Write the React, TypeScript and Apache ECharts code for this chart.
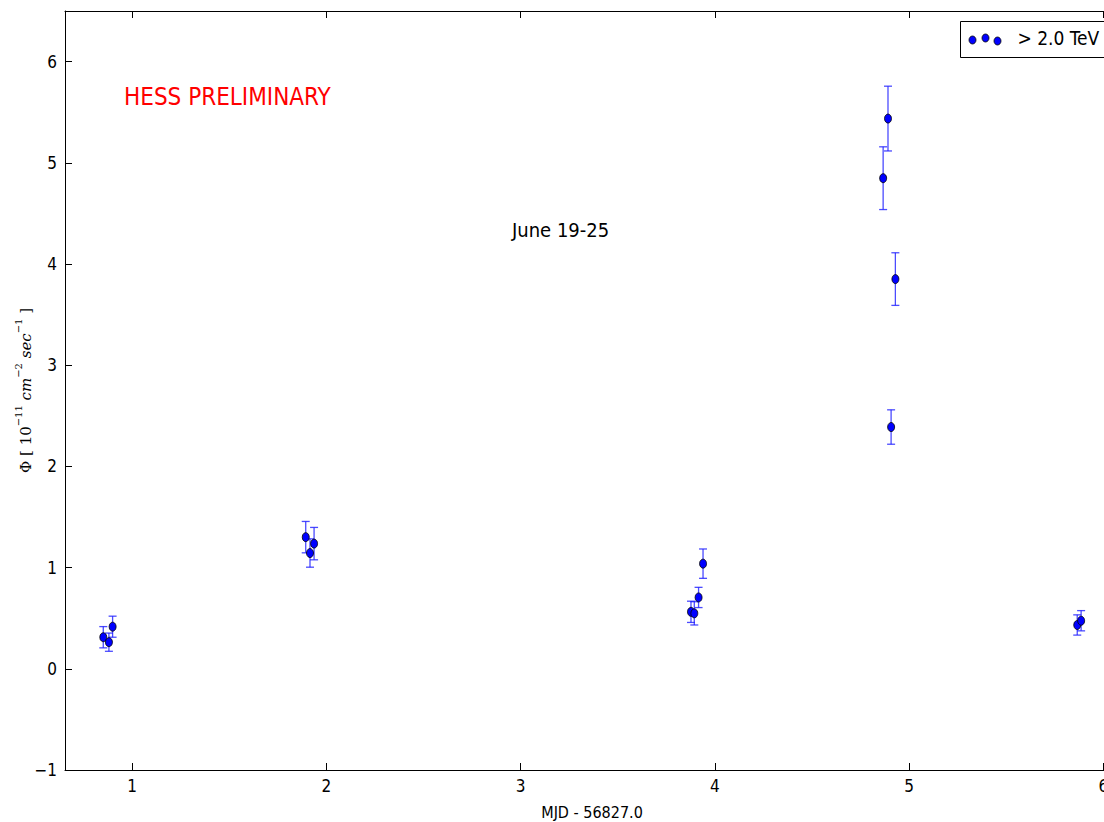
import React, { useEffect, useRef } from "react";
import * as echarts from "echarts";

const mjd = [0.852, 0.881, 0.900, 1.894, 1.916, 1.937, 3.877, 3.894, 3.916, 3.939, 4.866, 4.891, 4.907, 4.929, 5.865, 5.885];
const flux = [0.312, 0.263, 0.416, 1.301, 1.144, 1.237, 0.563, 0.548, 0.705, 1.039, 4.848, 5.437, 2.389, 3.851, 0.433, 0.475];
const fluxErr = [0.105, 0.09, 0.104, 0.155, 0.14, 0.16, 0.105, 0.115, 0.10, 0.145, 0.31, 0.32, 0.17, 0.26, 0.10, 0.10];
const xTicks = [1, 2, 3, 4, 5, 6];
const yTicks = [-1, 0, 1, 2, 3, 4, 5, 6];
const legendLabel = "> 2.0 TeV";
const xName = "MJD - 56827.0";
const title = "HESS PRELIMINARY";
const period = "June 19-25";

const FONT = "'DejaVu Sans Condensed', 'Liberation Sans Narrow', 'DejaVu Sans', sans-serif";

export default function App() {
  const ref = useRef<HTMLDivElement>(null);
  useEffect(() => {
    const chart = echarts.init(ref.current!, null, { renderer: "svg" });
    const points = mjd.map((x, i) => [x, flux[i]]);
    const errData = mjd.map((x, i) => [x, flux[i] - fluxErr[i], flux[i] + fluxErr[i]]);
    const errColor = "rgba(30,30,255,0.8)";
    const tickStyle = { show: true, inside: true, length: 7, lineStyle: { color: "#000" } };
    chart.setOption({
      animation: false,
      backgroundColor: "#fff",
      grid: { left: 65, top: 11, width: 1054, height: 759, outerBoundsMode: "none", containLabel: false },
      xAxis: [
        {
          type: "value",
          min: 0.655,
          max: 6.08,
          name: xName,
          nameLocation: "middle",
          nameGap: 34,
          nameMoveOverlap: false,
          nameTextStyle: { fontFamily: FONT, fontSize: 16, color: "#000" },
          axisLine: { show: true, onZero: false, lineStyle: { color: "#000", width: 1 } },
          axisTick: { ...tickStyle, customValues: xTicks },
          axisLabel: {
            fontFamily: FONT,
            fontSize: 17,
            color: "#000",
            margin: 7,
            customValues: xTicks,
          },
          splitLine: { show: false },
        },
        {
          type: "value",
          position: "top",
          min: 0.655,
          max: 6.08,
          axisLine: { show: true, onZero: false, lineStyle: { color: "#000", width: 1 } },
          axisTick: { ...tickStyle, customValues: xTicks },
          axisLabel: { show: false },
          splitLine: { show: false },
        },
      ],
      yAxis: {
        type: "value",
        min: -1,
        max: 6.5,
        interval: 1,
        name:
          "{m|Φ [ 10}{s|−11}{i| cm}{s|−2}{i| sec}{s|−1}{m| ]}",
        nameLocation: "middle",
        nameGap: 32,
        nameRotate: 90,
        nameMoveOverlap: false,
        nameTextStyle: {
          rich: {
            m: { fontFamily: "'DejaVu Serif', serif", fontSize: 15, color: "#000", lineHeight: 20, verticalAlign: "bottom" },
            i: { fontFamily: "'DejaVu Serif', serif", fontStyle: "italic", fontSize: 15, color: "#000", lineHeight: 20, verticalAlign: "bottom" },
            s: { fontFamily: "'DejaVu Serif', serif", fontSize: 10, color: "#000", lineHeight: 20, verticalAlign: "top" },
          },
        },
        axisLine: { show: true, onZero: false, lineStyle: { color: "#000", width: 1 } },
        axisTick: { ...tickStyle, customValues: yTicks },
        axisLabel: {
          fontFamily: FONT,
          fontSize: 17,
          color: "#000",
          margin: 8,
          customValues: yTicks,
          formatter: (v: number) => String(v).replace("-", "−"),
        },
        splitLine: { show: false },
      },
      series: [
        {
          type: "custom",
          name: "err",
          clip: false,
          data: errData,
          renderItem: (params: any, api: any) => {
            const x = api.value(0);
            const lo = api.coord([x, api.value(1)]);
            const hi = api.coord([x, api.value(2)]);
            const w = 4;
            const st = { stroke: errColor, lineWidth: 1.3 };
            return {
              type: "group",
              children: [
                { type: "line", shape: { x1: lo[0], y1: lo[1], x2: hi[0], y2: hi[1] }, style: st },
                { type: "line", shape: { x1: lo[0] - w, y1: lo[1], x2: lo[0] + w, y2: lo[1] }, style: st },
                { type: "line", shape: { x1: hi[0] - w, y1: hi[1], x2: hi[0] + w, y2: hi[1] }, style: st },
              ],
            };
          },
          z: 2,
        },
        {
          type: "scatter",
          name: legendLabel,
          data: points,
          symbol: "circle",
          symbolSize: [7, 9],
          itemStyle: { color: "#0000ff", borderColor: "#000", borderWidth: 0.8, opacity: 1 },
          z: 3,
        },
      ],
      graphic: [
        {
          type: "text",
          left: 124,
          top: 85,
          style: { text: title, fill: "#ff0000", font: `24px ${FONT}` },
        },
        {
          type: "text",
          left: 512,
          top: 220,
          style: { text: period, fill: "#000", font: `20px ${FONT}` },
        },
        {
          type: "group",
          left: 960,
          top: 21,
          children: [
            { type: "rect", shape: { x: 0, y: 0, width: 160, height: 36 }, style: { fill: "#fff", stroke: "#000", lineWidth: 1 } },
            { type: "ellipse", shape: { cx: 12, cy: 18.5, rx: 3.5, ry: 4 }, style: { fill: "#0000ff", stroke: "#000", lineWidth: 0.8 } },
            { type: "ellipse", shape: { cx: 25, cy: 16.5, rx: 3.5, ry: 4 }, style: { fill: "#0000ff", stroke: "#000", lineWidth: 0.8 } },
            { type: "ellipse", shape: { cx: 37, cy: 19.5, rx: 3.5, ry: 4 }, style: { fill: "#0000ff", stroke: "#000", lineWidth: 0.8 } },
            { type: "text", x: 57, y: 7, style: { text: legendLabel, fill: "#000", font: `19px ${FONT}` } },
          ],
        },
      ],
    });
    return () => chart.dispose();
  }, []);
  return <div ref={ref} style={{ position: "absolute", left: 0, top: 0, width: 1104, height: 822 }} />;
}
